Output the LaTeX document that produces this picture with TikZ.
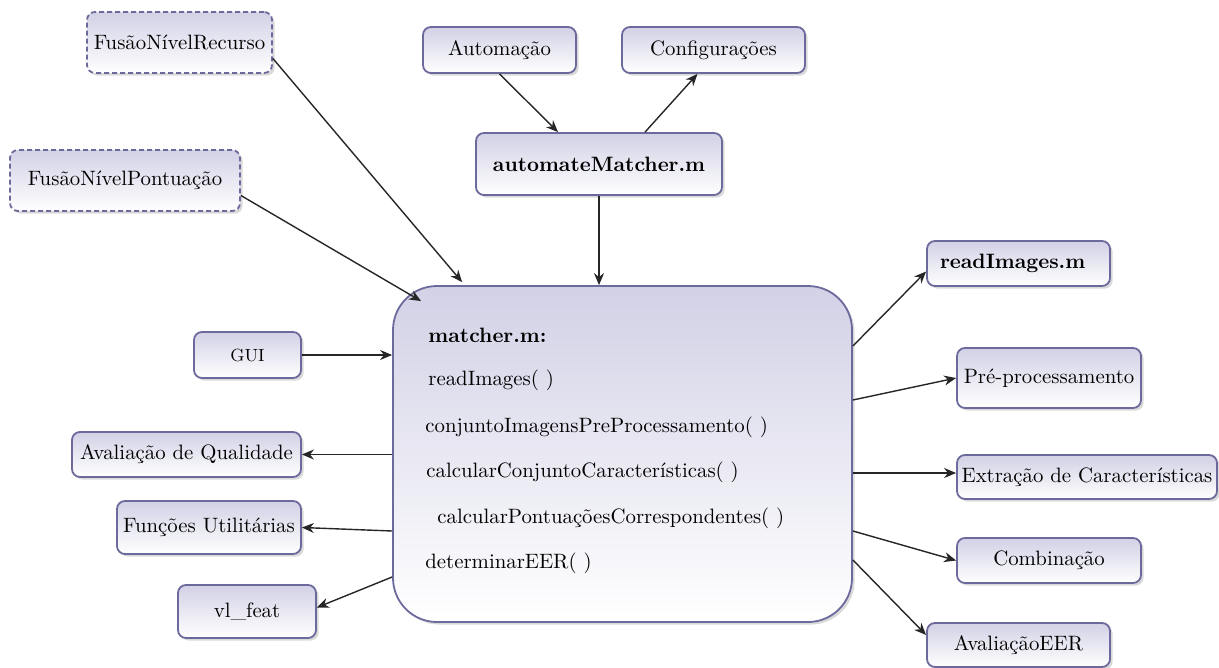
\documentclass[tikz,border=0pt]{standalone}
\usepackage{fontspec}
\usetikzlibrary{arrows.meta,positioning,calc,shadows}
\definecolor{cLine}{HTML}{6c6a9c}
\definecolor{cTop}{HTML}{d2d1e6}
\definecolor{cShd}{HTML}{b4b4b4}
\tikzset{
  mbox/.style={rounded corners=4pt,draw=cLine,line width=0.9pt,
               top color=cTop,bottom color=white,inner sep=0pt,
               drop shadow={shadow xshift=1.3pt,shadow yshift=-1.3pt,fill=cShd},
               font=\fontsize{10.4}{13}\selectfont},
  dbox/.style={mbox,dashed,dash pattern=on 2.5pt off 1.5pt},
  arr/.style={-{Stealth[length=6pt,width=5pt]},line width=0.7pt,black!85},
  ftxt/.style={anchor=west,inner sep=0pt,font=\fontsize{10.4}{13}\selectfont},
}

\begin{document}
\begin{tikzpicture}[x=0.5pt,y=-0.5pt]
  \useasboundingbox (0,0) rectangle (1219,668);
  % central module
  \node[mbox,rounded corners=22pt,minimum width=229.5pt,minimum height=168pt]
    (big) at (622.5,454){};
  \node[ftxt,font=\fontsize{10.4}{13}\selectfont\bfseries] (l1) at (428,335){matcher.m:};
  \node[ftxt] (l2) at (428,380){readImages( )};
  \node[ftxt] (l3) at (425,427){conjuntoImagensPreProcessamento( )};
  \node[ftxt] (l4) at (426,472){calcularConjuntoCaracterísticas( )};
  \node[ftxt] (l5) at (437,518){calcularPontuaçõesCorrespondentes( )};
  \node[ftxt] (l6) at (425,563){determinarEER( )};

  % top
  \node[dbox,minimum width=92.5pt,minimum height=30.5pt] (fnr) at (179.5,42.5){FusãoNívelRecurso};
  \node[dbox,minimum width=115pt,minimum height=30.5pt] (fnp) at (125,180.5){FusãoNívelPontuação};
  \node[mbox,minimum width=76.5pt,minimum height=23pt] (aut) at (499.5,50){Automação};
  \node[mbox,minimum width=91.5pt,minimum height=23pt] (cfg) at (713.5,50){Configurações};
  \node[mbox,minimum width=123pt,minimum height=31pt,font=\fontsize{10.4}{13}\selectfont\bfseries]
    (amat) at (599,164){automateMatcher.m};

  % left
  \node[mbox,minimum width=53.5pt,minimum height=23pt,font=\fontsize{8.8}{11}\selectfont]
    (gui) at (247.5,355){GUI};
  \node[mbox,minimum width=114.5pt,minimum height=22.5pt] (aq) at (186.5,454.5){Avaliação de Qualidade};
  \node[mbox,minimum width=92pt,minimum height=26.5pt] (fu) at (209,527.5){Funções Utilitárias};
  \node[mbox,minimum width=69pt,minimum height=26.5pt] (vl) at (247,611.5){vl\_feat};

  % right
  \node[mbox,minimum width=91.5pt,minimum height=22.5pt,text width=78.5pt,align=left,
    inner xsep=6.5pt,font=\fontsize{10.4}{13}\selectfont\bfseries] (rimg) at (1018.5,263.5){readImages.m};
  \node[mbox,minimum width=92pt,minimum height=30pt] (pre) at (1049,378){Pré-processamento};
  \node[mbox,minimum width=130pt,minimum height=22pt] (ext) at (1087,477){Extração de Características};
  \node[mbox,minimum width=92pt,minimum height=22.5pt] (comb) at (1049,560.5){Combinação};
  \node[mbox,minimum width=91.5pt,minimum height=22pt] (eer) at (1018.5,645){AvaliaçãoEER};

  % connectors
  \draw[arr] ($(fnr.east)+(0,16)$) -- ($(big.north west)+(70,-3)$);
  \draw[arr] ($(fnp.east)+(0,15)$) -- ($(big.north west)+(29,16)$);
  \draw[arr] (aut.south) -- ($(amat.north)+(-41,0)$);
  \draw[arr] ($(amat.north)+(46,0)$) -- ($(cfg.south)+(-16,0)$);
  \draw[arr] (amat.south) -- (amat.south |- big.north);
  \draw[arr] (gui.east) -- (gui.east -| big.west);
  \draw[arr] (aq.east -| big.west) -- (aq.east);
  \draw[arr] ($(big.west)+(0,77)$) -- (fu.east);
  \draw[arr] ($(big.west)+(0,123)$) -- ($(vl.east)+(0,-4)$);
  \draw[arr] ($(big.east)+(0,-108)$) -- ($(rimg.west)+(0,8)$);
  \draw[arr] ($(big.east)+(0,-54)$) -- (pre.west);
  \draw[arr] ($(big.east)+(0,19)$) -- ($(ext.west)+(0,-4)$);
  \draw[arr] ($(big.east)+(0,77)$) -- (comb.west);
  \draw[arr] ($(big.east)+(0,106)$) -- ($(eer.west)+(0,-10)$);
\end{tikzpicture}
\end{document}
